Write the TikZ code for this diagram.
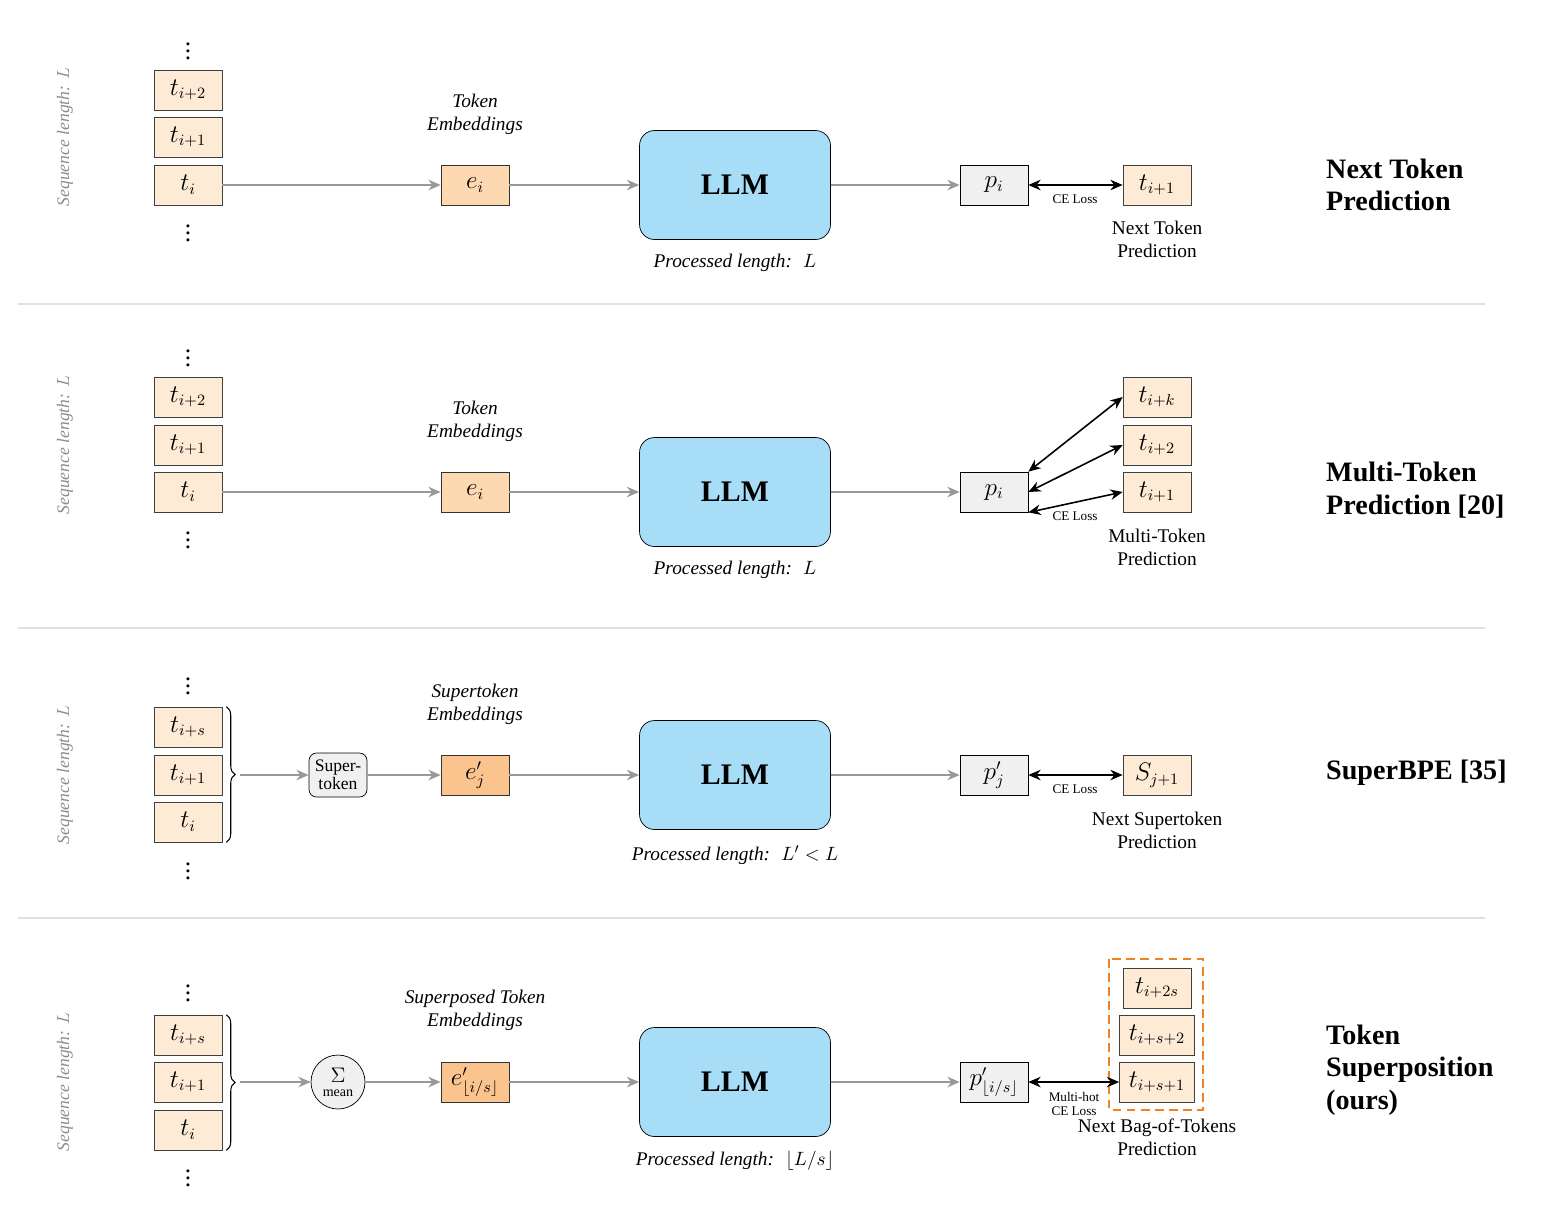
\documentclass[tikz,border=0pt]{standalone}
\usepackage{fontspec}
\setmainfont{Liberation Serif}
\usetikzlibrary{arrows.meta,decorations.pathreplacing}
\definecolor{tok}{HTML}{FDEBD6}
\definecolor{emb}{HTML}{FDD9B2}
\definecolor{semb}{HTML}{FBC48F}
\definecolor{llm}{HTML}{A8DDF8}
\definecolor{pbox}{HTML}{F0F0F0}
\begin{document}
\begin{tikzpicture}[x=0.02cm,y=-0.02cm,
 tok/.style={draw=black!75,fill=tok,minimum width=1.36cm,minimum height=0.8cm,inner sep=0pt,font=\fontsize{13.5}{15}\selectfont},
 wtok/.style={tok,minimum width=1.5cm},
 emb/.style={draw=black!80,fill=emb,minimum width=1.36cm,minimum height=0.8cm,inner sep=0pt,font=\fontsize{13.5}{15}\selectfont},
 semb/.style={emb,fill=semb},
 llm/.style={draw=black,fill=llm,rounded corners=0.3cm,minimum width=3.82cm,minimum height=2.18cm,font=\fontsize{17}{20}\selectfont\bfseries},
 pb/.style={draw=black,fill=pbox,minimum width=1.36cm,minimum height=0.8cm,inner sep=0pt,font=\fontsize{13.5}{15}\selectfont},
 ga/.style={draw=black!40,line width=0.9pt,-{Stealth[length=7pt,width=6pt]}},
 ba/.style={draw=black,line width=0.9pt,{Stealth[length=7pt,width=6pt]}-{Stealth[length=7pt,width=6pt]}},
 lab/.style={font=\itshape\fontsize{11}{13}\selectfont,align=center},
 capt/.style={font=\fontsize{11}{13}\selectfont,align=center},
 small/.style={font=\fontsize{7.5}{8}\selectfont,align=center,inner sep=1pt},
 seq/.style={rotate=90,text=black!45,font=\itshape\fontsize{10}{12}\selectfont},
 title/.style={anchor=west,font=\fontsize{16}{18.5}\selectfont\bfseries,align=left},
 vd/.style={font=\Large,inner sep=0pt},
 sep/.style={draw=black!12,line width=0.8pt}]
\useasboundingbox (0,0) rectangle (1550,1215);
% separators
\coordinate (s1a) at (18,304); \coordinate (s1b) at (1485,304);
\coordinate (s2a) at (18,628); \coordinate (s2b) at (1485,628);
\coordinate (s3a) at (18,918); \coordinate (s3b) at (1485,918);
\draw[sep] (s1a)--(s1b); \draw[sep] (s2a)--(s2b); \draw[sep] (s3a)--(s3b);

% ===== Row 1 =====
\node[seq] (q1) at (65,137) {Sequence length: $L$};
\node[vd] (d1a) at (188,46) {$\vdots$};
\node[tok] (a2) at (188,90) {$t_{i+2}$};
\node[tok] (a1) at (188,137) {$t_{i+1}$};
\node[tok] (a0) at (188,185) {$t_i$};
\node[vd] (d1b) at (188,228) {$\vdots$};
\node[emb] (ae) at (475,185) {$e_i$};
\node[lab] (al) at (475,114) {Token\\Embeddings};
\node[llm] (aL) at (735,185) {LLM};
\node[lab] (ap) at (735,263) {Processed length: \ $L$};
\node[pb] (aP) at (994,185) {$p_i$};
\node[tok] (aT) at (1157,185) {$t_{i+1}$};
\node[small] (ac) at (1075,199) {CE Loss};
\node[capt] (an) at (1157,239) {Next Token\\Prediction};
\node[title] (at) at (1320,185) {Next Token\\Prediction};
\draw[ga] (a0)--(ae); \draw[ga] (ae)--(aL); \draw[ga] (aL)--(aP);
\draw[ba] (aP)--(aT);

% ===== Row 2 =====
\node[seq] (q2) at (65,445) {Sequence length: $L$};
\node[vd] (d2a) at (188,353) {$\vdots$};
\node[tok] (b2) at (188,397) {$t_{i+2}$};
\node[tok] (b1) at (188,445) {$t_{i+1}$};
\node[tok] (b0) at (188,492) {$t_i$};
\node[vd] (d2b) at (188,535) {$\vdots$};
\node[emb] (be) at (475,492) {$e_i$};
\node[lab] (bl) at (475,421) {Token\\Embeddings};
\node[llm] (bL) at (735,492) {LLM};
\node[lab] (bp) at (735,570) {Processed length: \ $L$};
\node[pb] (bP) at (994,492) {$p_i$};
\node[tok] (bT3) at (1157,397) {$t_{i+k}$};
\node[tok] (bT2) at (1157,445) {$t_{i+2}$};
\node[tok] (bT1) at (1157,492) {$t_{i+1}$};
\node[small] (bc) at (1075,516) {CE Loss};
\node[capt] (bn) at (1157,547) {Multi-Token\\Prediction};
\node[title] (bt) at (1320,490) {Multi-Token\\Prediction [20]};
\draw[ga] (b0)--(be); \draw[ga] (be)--(bL); \draw[ga] (bL)--(bP);
\draw[ba] (bP.north east)--(bT3.west);
\draw[ba] (bP.east)--(bT2.west);
\draw[ba] (bP.south east)--(bT1.west);

% ===== Row 3 =====
\node[seq] (q3) at (65,775) {Sequence length: $L$};
\node[vd] (d3a) at (188,681) {$\vdots$};
\node[tok] (c2) at (188,727) {$t_{i+s}$};
\node[tok] (c1) at (188,775) {$t_{i+1}$};
\node[tok] (c0) at (188,822) {$t_i$};
\node[vd] (d3b) at (188,866) {$\vdots$};
\draw[decorate,decoration={brace,amplitude=5pt},line width=0.6pt] (c2.north east)++(4,0) coordinate (cb1) -- (c0.south east -| cb1) coordinate (cb2);
\coordinate (cbm) at (240,775);
\node[draw=black,fill=pbox,rounded corners=0.15cm,minimum width=1.16cm,minimum height=0.88cm,align=center,inner sep=1pt,font=\fontsize{10}{10}\selectfont] (cs) at (338,775) {Super-\\token};
\node[semb] (ce) at (475,775) {$e'_j$};
\node[lab] (cl) at (475,704) {Supertoken\\Embeddings};
\node[llm] (cL) at (735,775) {LLM};
\node[lab] (cp) at (735,855) {Processed length: \ $L'<L$};
\node[pb] (cP) at (994,775) {$p'_j$};
\node[tok] (cT) at (1157,775) {$S_{j+1}$};
\node[small] (cc) at (1075,789) {CE Loss};
\node[capt] (cn) at (1157,830) {Next Supertoken\\Prediction};
\node[title] (ct) at (1320,773) {SuperBPE [35]};
\draw[ga] (cbm)--(cs); \draw[ga] (cs)--(ce); \draw[ga] (ce)--(cL); \draw[ga] (cL)--(cP);
\draw[ba] (cP)--(cT);

% ===== Row 4 =====
\node[seq] (q4) at (65,1082) {Sequence length: $L$};
\node[vd] (d4a) at (188,988) {$\vdots$};
\node[tok] (e2) at (188,1035) {$t_{i+s}$};
\node[tok] (e1) at (188,1082) {$t_{i+1}$};
\node[tok] (e0) at (188,1130) {$t_i$};
\node[vd] (d4b) at (188,1173) {$\vdots$};
\draw[decorate,decoration={brace,amplitude=5pt},line width=0.6pt] (e2.north east)++(4,0) coordinate (eb1) -- (e0.south east -| eb1) coordinate (eb2);
\coordinate (ebm) at (240,1082);
\node[draw=black,fill=pbox,circle,minimum size=1.08cm,inner sep=0pt,align=center] (es) at (338,1082) {\large$\Sigma$\\[-4pt]{\fontsize{8}{8}\selectfont mean}};
\node[semb] (ee) at (475,1082) {$e'_{\lfloor i/s\rfloor}$};
\node[lab] (el) at (475,1010) {Superposed Token\\Embeddings};
\node[llm] (eL) at (735,1082) {LLM};
\node[lab] (ep) at (735,1161) {Processed length: \ $\lfloor L/s\rfloor$};
\node[pb] (eP) at (994,1082) {$p'_{\lfloor i/s\rfloor}$};
\node[tok] (eT3) at (1157,988) {$t_{i+2s}$};
\node[wtok] (eT2) at (1157,1035) {$t_{i+s+2}$};
\node[wtok] (eT1) at (1157,1082) {$t_{i+s+1}$};
\draw[draw={rgb,255:red,245;green,130;blue,32},line width=1pt,dash pattern=on 5pt off 3pt] (1109,959) rectangle (1203,1110);
\node[small] (ec) at (1074,1104) {Multi-hot\\CE Loss};
\node[capt] (en) at (1157,1137) {Next Bag-of-Tokens\\Prediction};
\node[title] (et) at (1320,1070) {Token\\Superposition\\(ours)};
\draw[ga] (ebm)--(es); \draw[ga] (es)--(ee); \draw[ga] (ee)--(eL); \draw[ga] (eL)--(eP);
\draw[ba] (eP)--(eT1);
\end{tikzpicture}
\end{document}
